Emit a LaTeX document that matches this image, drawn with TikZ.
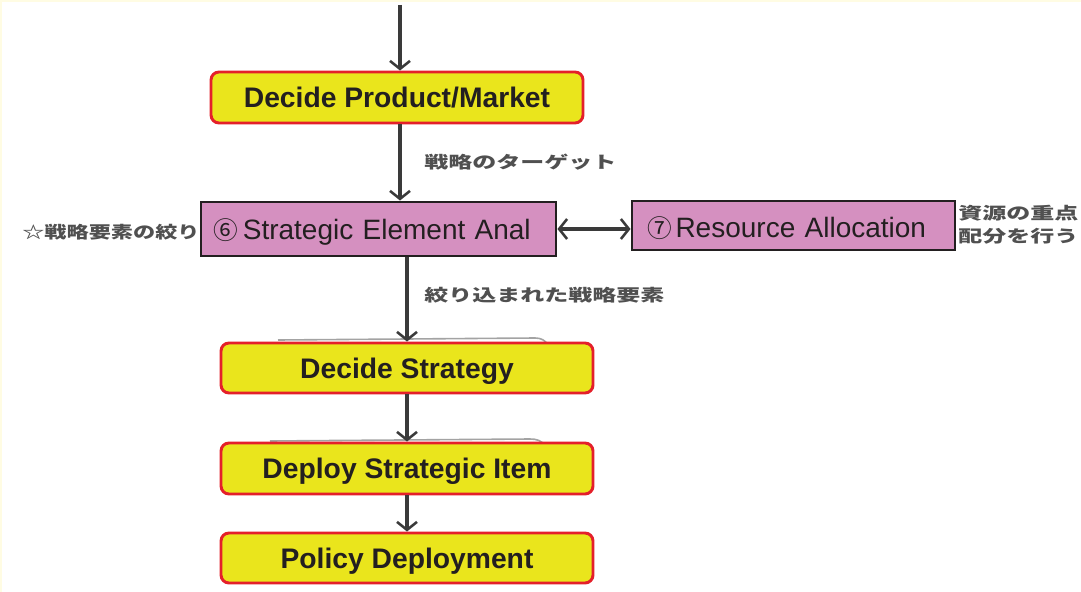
\documentclass[tikz,border=0pt]{standalone}
\usepackage{fontspec}
\setmainfont{Liberation Sans}
\newfontfamily\jpfont{Noto Sans CJK JP}
\usetikzlibrary{arrows.meta}

\definecolor{boxyellow}{HTML}{EAE51C}
\definecolor{boxred}{HTML}{E4202A}
\definecolor{boxpink}{HTML}{D590C0}
\definecolor{inkdark}{HTML}{231F20}
\definecolor{linegray}{HTML}{3A3A3A}
\definecolor{notegray}{HTML}{505050}
\definecolor{paper}{HTML}{FFFCE3}

\tikzset{
  stepbox/.style={draw=boxred, fill=boxyellow, line width=2.2pt,
    rounded corners=6pt, text=inkdark, inner sep=0pt,
    text height=15.2pt, text depth=0pt,
    font=\bfseries\fontsize{21.2}{24}\selectfont},
  toolbox/.style={draw=inkdark, fill=boxpink, line width=2.2pt,
    text=inkdark, inner sep=0pt, align=left,
    text height=15pt, text depth=0pt,
    font=\fontsize{21}{24}\selectfont},
  note/.style={text=notegray, inner sep=0pt, anchor=west, align=left,
    font=\jpfont\bfseries\fontsize{12.5}{17.5}\selectfont},
  barb/.tip={Straight Barb[length=6pt,width=15pt,line width=1.9pt]},
  flow/.style={draw=linegray, line width=2.4pt, -barb},
  flowboth/.style={draw=linegray, line width=2.4pt, barb-barb},
  scanline/.style={draw=black!60, line width=1.2pt, opacity=0.6},
}
\newcommand{\wide}[2][1.44]{\scalebox{#1}[1]{#2}}
\newcommand{\circnum}[2]{{\jpfont\fontsize{18.5}{20}\selectfont #2}\hspace{#1}}

\begin{document}
\begin{tikzpicture}[x=0.75pt,y=-0.75pt]
  \useasboundingbox (0,0) rectangle (1081,592);
  \fill[white] (0,0) rectangle (1081,592);
  \draw[paper, line width=3pt] (0,592) -- (0,0) -- (1081,0);

  % side notes (drawn first so the boxes cover their ends)
  \node[note] (n1) at (424,162) {\wide{戦略のターゲット}};
  \node[note] (n2) at (424,295) {\wide{絞り込まれた戦略要素}};
  \node[note] (n3) at (22,232) {\wide[1.33]{☆戦略要素の絞り}};
  \node[note] (n4) at (958,225) {\wide{資源の重点}\\\wide{配分を行う}};

  % faint outlines of older boxes behind the steps
  \draw[scanline] (278,340) -- (535,338) to[out=0,in=120] (548,345);
  \draw[scanline] (270,441) -- (530,439) to[out=0,in=120] (545,446);

  % step boxes
  \node[stepbox, minimum width=372*0.75pt, minimum height=51*0.75pt] (pm) at (397,97.5) {Decide Product/Market};
  \node[toolbox, minimum width=355*0.75pt, minimum height=54*0.75pt, text width=330*0.75pt] (sea) at (378.5,229) {\circnum{3.5pt}{⑥}Strategic Element Anal};
  \node[toolbox, minimum width=323*0.75pt, minimum height=49*0.75pt, text width=292*0.75pt, text height=18pt] (ra) at (793.5,225.5) {\circnum{2.5pt}{⑦}Resource Allocation};
  \node[stepbox, minimum width=372*0.75pt, minimum height=50*0.75pt] (ds) at (407,368) {Decide Strategy};
  \node[stepbox, minimum width=372*0.75pt, minimum height=51*0.75pt] (dsi) at (407,468.5) {Deploy Strategic Item};
  \node[stepbox, minimum width=372*0.75pt, minimum height=50*0.75pt] (pd) at (407,558) {Policy Deployment};

  % connectors
  \coordinate (top) at (400,5);
  \draw[flow] (top) -- (top |- pm.north);
  \draw[flow] (pm.south -| top) -- (sea.north -| top);
  \draw[flow] (sea.south -| ds.north) -- (ds.north);
  \draw[flow] (ds.south) -- (dsi.north);
  \draw[flow] (dsi.south) -- (pd.north);
  \draw[flowboth] (sea.east) -- (sea.east -| ra.west);
\end{tikzpicture}
\end{document}
